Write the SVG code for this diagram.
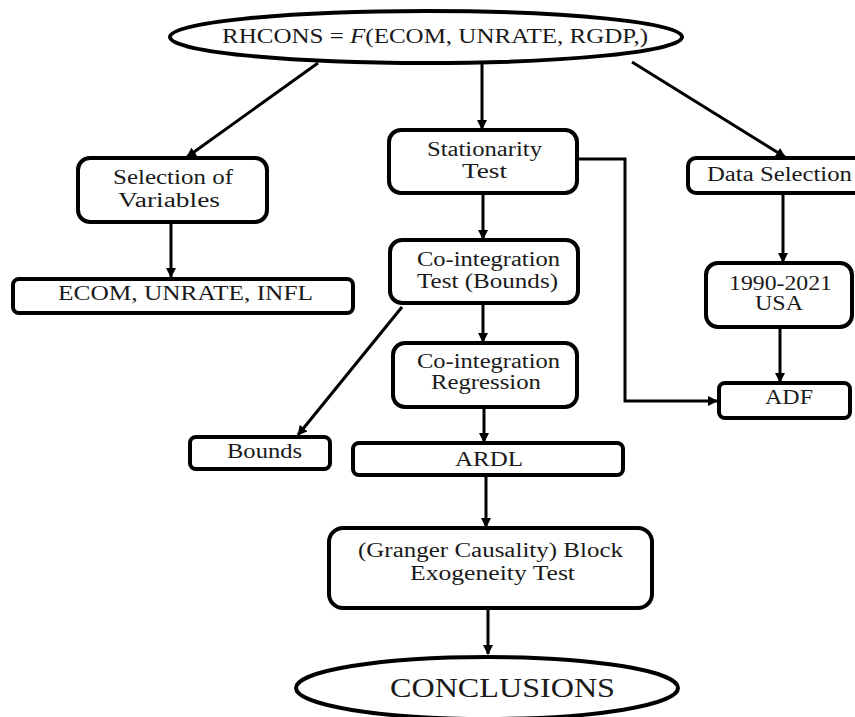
<svg xmlns="http://www.w3.org/2000/svg" width="855" height="717" viewBox="0 0 855 717">
<style>
.box{fill:#fff;stroke:#000;stroke-width:4}
.ell{fill:#fff;stroke:#000;stroke-width:4}
text{font-family:"Liberation Serif","Times New Roman",serif;font-size:20px;fill:#1a1a1a}
.big{font-size:22px}
.huge{font-size:27px}
.c{fill:none;stroke:#000;stroke-width:3}
</style>
<defs>
<marker id="ah" markerWidth="10" markerHeight="10" refX="9" refY="5" orient="auto" markerUnits="userSpaceOnUse">
<path d="M0,0 L10,5 L0,10 Z" fill="#000"/>
</marker>
</defs>
<rect width="855" height="717" fill="#fff"/>
<g id="connectors">
<line class="c" x1="318" y1="63" x2="187" y2="157" marker-end="url(#ah)"/>
<line class="c" x1="482" y1="64" x2="482" y2="129" marker-end="url(#ah)"/>
<line class="c" x1="632" y1="62" x2="785" y2="157" marker-end="url(#ah)"/>
<line class="c" x1="171" y1="222" x2="171" y2="277" marker-end="url(#ah)"/>
<line class="c" x1="483" y1="193" x2="483" y2="239" marker-end="url(#ah)"/>
<line class="c" x1="483" y1="303" x2="483" y2="342" marker-end="url(#ah)"/>
<line class="c" x1="484" y1="407" x2="484" y2="442" marker-end="url(#ah)"/>
<line class="c" x1="402" y1="307" x2="298" y2="435" marker-end="url(#ah)"/>
<polyline class="c" points="577,159 625,159 625,401 717,401" marker-end="url(#ah)"/>
<line class="c" x1="783" y1="193" x2="783" y2="262" marker-end="url(#ah)"/>
<line class="c" x1="780" y1="327" x2="780" y2="382" marker-end="url(#ah)"/>
<line class="c" x1="486" y1="475" x2="486" y2="527" marker-end="url(#ah)"/>
<line class="c" x1="488" y1="608" x2="488" y2="654" marker-end="url(#ah)"/>
</g>
<g id="top">
<ellipse class="ell" cx="426" cy="37" rx="256" ry="26"/>
<text class="big" x="222" y="43" textLength="426" lengthAdjust="spacingAndGlyphs">RHCONS = <tspan font-style="italic">F</tspan>(ECOM, UNRATE, RGDP,)</text>
</g>
<g id="selection">
<rect class="box" x="78" y="158" width="189" height="64" rx="12"/>
<text x="113" y="184" textLength="120" lengthAdjust="spacingAndGlyphs">Selection of</text>
<text x="118" y="207" textLength="102" lengthAdjust="spacingAndGlyphs">Variables</text>
</g>
<g id="vars">
<rect class="box" x="13" y="279" width="340" height="34" rx="6"/>
<text class="big" x="58" y="300" textLength="255" lengthAdjust="spacingAndGlyphs">ECOM, UNRATE, INFL</text>
</g>
<g id="stationarity">
<rect class="box" x="389" y="130" width="188" height="63" rx="12"/>
<text x="427" y="156" textLength="115" lengthAdjust="spacingAndGlyphs">Stationarity</text>
<text x="462" y="178" textLength="45" lengthAdjust="spacingAndGlyphs">Test</text>
</g>
<g id="cointtest">
<rect class="box" x="390" y="240" width="188" height="63" rx="12"/>
<text x="417" y="266" textLength="143" lengthAdjust="spacingAndGlyphs">Co-integration</text>
<text x="417" y="288" textLength="141" lengthAdjust="spacingAndGlyphs">Test (Bounds)</text>
</g>
<g id="cointreg">
<rect class="box" x="393" y="343" width="184" height="64" rx="12"/>
<text x="417" y="368" textLength="143" lengthAdjust="spacingAndGlyphs">Co-integration</text>
<text x="431" y="389" textLength="110" lengthAdjust="spacingAndGlyphs">Regression</text>
</g>
<g id="bounds">
<rect class="box" x="190" y="437" width="140" height="32" rx="6"/>
<text x="227" y="458" textLength="75" lengthAdjust="spacingAndGlyphs">Bounds</text>
</g>
<g id="ardl">
<rect class="box" x="353" y="443" width="270" height="32" rx="6"/>
<text x="455" y="466" textLength="68" lengthAdjust="spacingAndGlyphs">ARDL</text>
</g>
<g id="dataselection">
<rect class="box" x="688" y="158" width="180" height="35" rx="8"/>
<text x="707" y="181" textLength="145" lengthAdjust="spacingAndGlyphs">Data Selection</text>
</g>
<g id="usa">
<rect class="box" x="706" y="263" width="146" height="64" rx="12"/>
<text x="729" y="290" textLength="103" lengthAdjust="spacingAndGlyphs">1990-2021</text>
<text x="755" y="310" textLength="48" lengthAdjust="spacingAndGlyphs">USA</text>
</g>
<g id="adf">
<rect class="box" x="719" y="383" width="131" height="35" rx="6"/>
<text x="765" y="404" textLength="48" lengthAdjust="spacingAndGlyphs">ADF</text>
</g>
<g id="granger">
<rect class="box" x="329" y="528" width="323" height="80" rx="14"/>
<text x="358" y="557" textLength="265" lengthAdjust="spacingAndGlyphs">(Granger Causality) Block</text>
<text x="410" y="580" textLength="165" lengthAdjust="spacingAndGlyphs">Exogeneity Test</text>
</g>
<g id="conclusions">
<ellipse class="ell" cx="487" cy="688" rx="191" ry="31"/>
<text class="huge" x="390" y="697" textLength="225" lengthAdjust="spacingAndGlyphs">CONCLUSIONS</text>
</g>
</svg>
